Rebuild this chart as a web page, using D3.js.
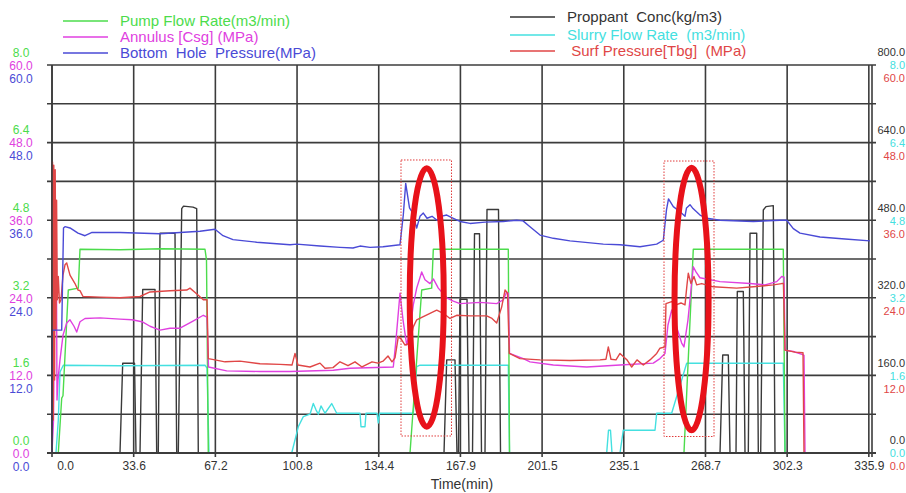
<!DOCTYPE html>
<html>
<head>
<meta charset="utf-8">
<script src="https://cdn.jsdelivr.net/npm/d3@7"></script>
<style>
  body { margin: 0; background: #fff; overflow: hidden; }
  svg { display: block; font-family: "Liberation Sans", Arial, sans-serif; }
</style>
</head>
<body>
<div id="chart"></div>
<script>
// time ticks (min) and their labels
const timeTicks = [0, 33.59, 67.18, 100.77, 134.36, 167.95, 201.54, 235.13, 268.72, 302.31, 335.9];
const timeLabels = ["0.0", "33.6", "67.2", "100.8", "134.4", "167.9", "201.5", "235.1", "268.7", "302.3", "335.9"];

// left axes labels (pump rate, annulus, BHP) and right axes (proppant, slurry, surf)
const pumpTicks = ["0.0", "1.6", "3.2", "4.8", "6.4", "8.0"];
const annulusTicks = ["0.0", "12.0", "24.0", "36.0", "48.0", "60.0"];
const bhpTicks = ["0.0", "12.0", "24.0", "36.0", "48.0", "60.0"];
const proppantTicks = ["0.0", "160.0", "320.0", "480.0", "640.0", "800.0"];
const slurryTicks = ["0.0", "1.6", "3.2", "4.8", "6.4", "8.0"];
const surfTicks = ["0.0", "12.0", "24.0", "36.0", "48.0", "60.0"];

// [time(min), value]
const bhp = [[0,0],[0.12,19.0],[3.99,19.0],[4.73,34.8],[5.35,35.0],[7.40,34.8],[10.69,34.0],[13.57,33.6],[16.45,34.1],
  [27.96,34.1],[44.41,33.9],[60.86,34.3],[67.03,34.6],[70.32,33.6],[74.43,33.0],[84.18,32.6],[97.87,32.2],[100.62,32.3],
  [110.21,32.0],[118.43,31.8],[123.78,31.7],[126.66,32.0],[130.77,31.8],[136.11,31.9],[143.10,32.2],[144.46,36.8],
  [145.45,41.7],[147.01,37.9],[148.04,37.3],[149.97,34.8],[151.33,36.6],[152.69,37.1],[154.21,36.3],[156.27,36.6],
  [158.32,36.0],[159.97,36.6],[162.31,36.8],[165.03,36.3],[167.78,35.8],[171.89,35.5],[178.06,35.7],[185.59,35.8],
  [191.10,36.0],[193.69,35.9],[196.56,35.0],[200.68,33.7],[206.15,33.2],[213.01,32.8],[226.71,32.3],[233.57,32.2],
  [241.80,31.9],[248.66,32.3],[251.38,32.9],[252.69,37.6],[253.52,39.3],[255.49,38.1],[258.25,37.3],[260.30,36.6],
  [260.92,37.9],[262.36,38.4],[263.60,37.8],[266.48,36.8],[269.23,36.3],[274.70,36.0],[288.39,35.8],[299.37,36.0],
  [302.13,36.0],[304.84,34.7],[307.60,34.0],[315.82,33.4],[326.10,33.1],[336.38,32.8]];

const annulus = [[0,0],[0.62,5.1],[1.03,23.7],[1.32,35.0],[1.56,19.0],[1.77,32.9],[2.06,8.2],[2.47,11.3],[3.29,14.4],
  [4.52,18.2],[6.04,20.1],[7.40,20.6],[9.05,19.6],[10.16,18.7],[11.51,20.3],[13.57,20.8],[19.74,20.9],[27.96,20.7],
  [32.90,20.6],[37.01,20.3],[40.30,19.6],[44.41,19.0],[48.52,19.3],[52.64,19.3],[57.98,20.4],[62.22,21.3],[63.74,21.0],
  [64.36,13.3],[71.84,12.7],[85.53,12.6],[97.87,12.6],[115.68,12.8],[122.54,13.1],[140.35,13.3],[141.46,17.5],
  [143.10,24.7],[144.34,20.6],[145.86,16.7],[147.22,19.0],[148.57,22.9],[149.97,25.5],[152.03,28.0],[153.38,26.8],
  [155.44,26.2],[156.88,26.9],[158.86,25.5],[162.31,24.0],[165.03,23.5],[167.78,23.1],[176.00,23.3],[182.87,23.1],
  [185.59,23.7],[186.98,24.9],[187.64,24.7],[188.14,15.4],[193.81,14.6],[196.56,14.1],[206.15,13.6],[219.88,13.3],
  [233.57,13.6],[247.27,13.9],[250.01,14.6],[252.07,15.4],[253.30,19.8],[254.82,22.1],[256.59,19.8],[258.94,17.0],
  [259.88,16.4],[261.53,20.6],[263.71,28.8],[264.82,28.0],[266.46,27.1],[274.70,26.5],[287.04,26.2],[293.21,26.0],
  [298.02,26.5],[300.08,27.3],[301.02,27.2],[301.43,15.9],[304.84,15.7],[308.71,15.2],[309.24,15.1],[309.65,0]];

const surfPressure = [[0,0],[0.21,45.0],[0.53,5.1],[0.74,44.5],[1.07,11.3],[1.32,43.8],[1.64,19.0],[1.89,39.1],
  [2.18,23.7],[2.59,27.3],[3.08,23.2],[3.70,23.7],[4.52,27.5],[5.35,29.1],[6.04,29.4],[7.40,27.5],[9.46,26.2],
  [10.69,25.2],[11.51,25.1],[12.75,24.2],[19.74,24.1],[27.96,24.0],[36.19,24.2],[40.30,24.9],[48.52,25.1],[55.39,25.2],
  [56.75,25.5],[59.22,24.7],[62.22,23.7],[63.74,23.7],[64.27,14.6],[67.03,14.4],[71.14,14.1],[77.31,14.2],[85.53,13.8],
  [93.76,13.7],[98.69,13.6],[99.93,15.4],[101.16,13.6],[106.10,13.3],[110.21,13.9],[112.26,13.1],[115.55,13.2],
  [118.43,14.1],[121.72,13.5],[124.60,14.1],[127.48,13.3],[131.59,14.1],[134.06,13.9],[136.11,14.2],[138.17,15.0],
  [139.81,14.1],[141.05,14.7],[142.41,18.0],[143.80,17.5],[145.16,16.7],[147.22,17.0],[148.57,19.5],[149.97,20.6],
  [152.69,21.1],[155.44,21.6],[158.20,22.1],[160.91,21.6],[163.67,20.8],[166.42,21.3],[171.89,21.2],[178.76,21.2],
  [180.94,20.8],[182.87,20.1],[184.93,22.6],[186.29,25.2],[187.31,24.7],[188.05,15.4],[192.45,14.6],[200.68,14.4],
  [213.01,14.3],[225.35,14.4],[227.81,14.5],[228.76,16.4],[229.87,14.5],[231.93,14.4],[233.57,15.4],[235.21,14.8],
  [236.45,14.4],[238.38,13.3],[240.56,14.4],[243.15,13.6],[245.90,14.4],[248.66,15.4],[250.01,16.2],[252.07,16.4],
  [252.48,23.1],[254.82,23.4],[256.59,22.9],[258.65,23.2],[260.30,22.9],[261.12,26.0],[261.65,27.8],[262.76,26.2],
  [263.99,27.3],[265.10,26.0],[267.16,26.2],[271.93,25.7],[281.55,25.5],[288.39,25.7],[296.61,26.0],[300.06,26.2],
  [300.80,26.2],[301.43,15.9],[305.54,15.6],[308.83,15.5],[309.24,0]];

const pumpRate = [[0,0],[2.59,0],[3.99,1.13],[4.52,1.18],[6.70,3.36],[10.82,3.40],[11.51,4.20],[27.96,4.19],[45.0,4.21],
  [62.92,4.20],[63.53,3.98],[64.27,0],[147.22,0],[152.03,3.36],[156.14,3.40],[156.80,4.20],[187.64,4.20],[188.14,0],
  [259.88,0],[263.71,4.20],[300.72,4.20],[301.43,0],[337.2,0]];

const slurryRate = [[0,0],[1.64,0],[2.59,0.68],[3.29,1.67],[4.65,1.81],[27.96,1.80],[62.92,1.81],[63.74,1.75],[64.56,0],
  [98.57,0],[101.28,0.54],[103.34,0.75],[106.10,0.80],[107.45,1.02],[108.56,0.89],[109.51,0.80],[110.62,0.97],
  [112.26,0.82],[115.02,1.02],[117.07,0.82],[126.66,0.82],[127.07,0.54],[128.71,0.54],[129.12,0.82],[133.65,0.82],
  [134.18,0.62],[134.68,0.82],[148.57,0.82],[149.97,1.78],[151.33,1.81],[187.64,1.81],[188.14,0],[228.10,0],
  [228.84,0.47],[229.66,0.47],[230.28,0],[233.57,0],[234.93,0.47],[247.97,0.47],[248.66,0.82],[254.82,0.82],
  [260.99,1.85],[300.72,1.85],[301.43,0],[337.2,0]];

const proppant = [[0,0],[27.96,0],[29.07,185],[33.93,185],[34.54,0],[36.19,0],[37.30,337],[42.36,337],[43.05,0],
  [43.71,0],[44.41,453],[50.58,453],[51.28,0],[51.94,0],[53.34,504],[54.08,509],[57.98,507],[59.50,504],[60.16,0],
  [161.20,0],[162.31,192],[165.72,192],[166.54,0],[167.16,0],[167.78,317],[170.66,317],[171.48,0],[172.92,0],
  [173.74,452],[175.80,452],[176.62,0],[178.06,0],[178.88,502],[183.61,502],[184.44,0],
  [274.70,0],[275.81,202],[278.11,202],[278.81,0],[281.28,0],[281.81,333],[284.28,333],[284.98,0],[286.33,0],
  [287.04,453],[289.79,453],[290.45,0],[291.43,0],[292.50,501],[293.61,508],[296.61,510],[297.31,0],[337.2,0]];

// highlighted windows: [t0, t1, p0, p1] and ovals: [tCenter, pCenter, tRadius, pRadius]
const boxes = [[143.52, 164.28, 2.63, 45.31], [251.67, 272.23, 2.55, 45.15]];
const ovals = [[154.1, 24.05, 7.0, 20.0], [263.0, 23.8, 7.0, 20.3]];

const w = 906, h = 493;
const plotLeft = 52, plotRight = 872, plotTop = 65, plotBottom = 453;

const x = d3.scaleLinear().domain([0, 337.2]).range([plotLeft, plotRight]);
const yP = d3.scaleLinear().domain([0, 60]).range([plotBottom, plotTop]);
const yF = d3.scaleLinear().domain([0, 8]).range([plotBottom, plotTop]);
const yC = d3.scaleLinear().domain([0, 800]).range([plotBottom, plotTop]);

const green = "#4cdc4c", magenta = "#e040e0", blue = "#4a4ad6";
const black = "#3a3a3a", cyan = "#44e0e0", red = "#e04646";

const svg = d3.select("#chart").append("svg")
    .attr("width", w)
    .attr("height", h);

// grid
const gridVals = d3.range(0, 61, 6);
svg.append("g").selectAll("line")
    .data(gridVals)
    .enter().append("line")
    .attr("x1", plotLeft - 5).attr("x2", plotRight + 4)
    .attr("y1", d => yP(d)).attr("y2", d => yP(d))
    .attr("stroke", "#3c3c3c").attr("stroke-width", 1.6);

svg.append("g").selectAll("line")
    .data(timeTicks)
    .enter().append("line")
    .attr("x1", d => x(d)).attr("x2", d => x(d))
    .attr("y1", plotTop).attr("y2", plotBottom + 4)
    .attr("stroke", "#3c3c3c").attr("stroke-width", 1.6);

// data lines
const series = [
  { data: proppant, y: yC, color: black },
  { data: slurryRate, y: yF, color: cyan },
  { data: pumpRate, y: yF, color: green },
  { data: annulus, y: yP, color: magenta },
  { data: surfPressure, y: yP, color: red },
  { data: bhp, y: yP, color: blue }
];

series.forEach(s => {
  const line = d3.line().x(d => x(d[0])).y(d => s.y(d[1]));
  svg.append("path")
      .datum(s.data)
      .attr("d", line)
      .attr("fill", "none")
      .attr("stroke", s.color)
      .attr("stroke-width", 1.4)
      .attr("stroke-linejoin", "round");
});

// frame
svg.append("line").attr("x1", plotLeft).attr("x2", plotLeft).attr("y1", plotTop).attr("y2", plotBottom)
    .attr("stroke", "#3c3c3c").attr("stroke-width", 1.6);
svg.append("line").attr("x1", plotRight).attr("x2", plotRight).attr("y1", plotTop).attr("y2", plotBottom + 4)
    .attr("stroke", "#3c3c3c").attr("stroke-width", 1.6);
svg.append("line").attr("x1", plotLeft - 5).attr("x2", plotRight + 4).attr("y1", plotBottom).attr("y2", plotBottom)
    .attr("stroke", "#3c3c3c").attr("stroke-width", 1.8);

// x axis labels
const xAxis = d3.axisBottom(x)
    .tickValues(timeTicks)
    .tickFormat((d, i) => timeLabels[i])
    .tickSize(0)
    .tickPadding(8);
const gx = svg.append("g")
    .attr("transform", "translate(0," + plotBottom + ")")
    .call(xAxis);
gx.select(".domain").remove();
gx.selectAll("text")
    .attr("fill", "#333")
    .style("font-size", "12px")
    .attr("dx", (d, i) => i == 0 ? 13 : 0);

svg.append("text")
    .text("Time(min)")
    .attr("x", 462).attr("y", 489)
    .style("text-anchor", "middle")
    .style("font-size", "14px")
    .attr("fill", "#333");

// stacked axis labels
const labelVals = [0, 12, 24, 36, 48, 60];
function stack(xPos, anchor, size, sets) {
  sets.forEach(set => {
    svg.append("g").selectAll("text")
        .data(labelVals)
        .enter().append("text")
        .text((d, i) => set.labels[i])
        .attr("x", xPos)
        .attr("y", d => yP(d) + set.dy)
        .attr("dy", "0.35em")
        .style("text-anchor", anchor)
        .style("font-size", size)
        .attr("fill", set.color);
  });
}
stack(21, "middle", "12px", [
  { labels: pumpTicks, dy: -12.5, color: green },
  { labels: annulusTicks, dy: 0.5, color: magenta },
  { labels: bhpTicks, dy: 13.5, color: blue }
]);
stack(905, "end", "11px", [
  { labels: proppantTicks, dy: -12.5, color: "#333" },
  { labels: slurryTicks, dy: 0.5, color: cyan },
  { labels: surfTicks, dy: 13.5, color: red }
]);

// legend
const legendLeft = [
  { name: "Pump Flow Rate(m3/min)", color: green, y: 21 },
  { name: "Annulus [Csg] (MPa)", color: magenta, y: 37 },
  { name: "Bottom  Hole  Pressure(MPa)", color: blue, y: 53 }
];
const legendRight = [
  { name: "Proppant  Conc(kg/m3)", color: "#333", y: 17 },
  { name: "Slurry Flow Rate  (m3/min)", color: cyan, y: 35 },
  { name: " Surf Pressure[Tbg]  (MPa)", color: red, y: 51 }
];
function legend(items, x0) {
  const g = svg.append("g").selectAll("g")
      .data(items)
      .enter().append("g");
  g.append("line")
      .attr("x1", x0).attr("x2", x0 + 45)
      .attr("y1", d => d.y).attr("y2", d => d.y)
      .attr("stroke", d => d.color).attr("stroke-width", 1.4);
  g.append("text")
      .text(d => d.name)
      .attr("x", x0 + 57)
      .attr("y", d => d.y)
      .attr("dy", "0.35em")
      .style("font-size", "15px")
      .style("white-space", "pre")
      .attr("fill", d => d.color);
}
legend(legendLeft, 63);
legend(legendRight, 510);

// highlight boxes and ovals
svg.append("g").selectAll("rect")
    .data(boxes)
    .enter().append("rect")
    .attr("x", d => x(d[0]))
    .attr("y", d => yP(d[3]))
    .attr("width", d => x(d[1]) - x(d[0]))
    .attr("height", d => yP(d[2]) - yP(d[3]))
    .attr("fill", "none")
    .attr("stroke", "#e03a3a")
    .attr("stroke-width", 1)
    .attr("stroke-dasharray", "1.5,1.5");

svg.append("g").selectAll("ellipse")
    .data(ovals)
    .enter().append("ellipse")
    .attr("cx", d => x(d[0]))
    .attr("cy", d => yP(d[1]))
    .attr("rx", d => x(d[0] + d[2]) - x(d[0]))
    .attr("ry", d => yP(d[1] - d[3]) - yP(d[1]))
    .attr("fill", "none")
    .attr("stroke", "#e8121a")
    .attr("stroke-width", 6);
</script>
</body>
</html>
